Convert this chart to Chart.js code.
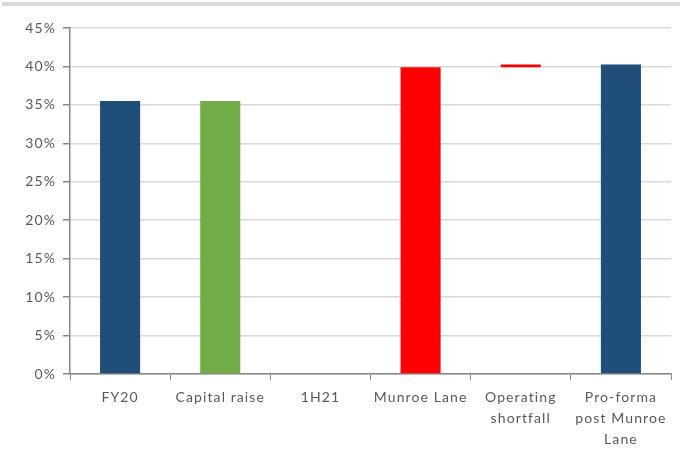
<!DOCTYPE html>
<html>
<head>
<meta charset="utf-8">
<script src="https://cdn.jsdelivr.net/npm/chart.js@4"></script>
<style>
  html, body { margin: 0; padding: 0; background: #fff; }
  .topbar { position: absolute; left: 2px; top: 2px; width: 678px; height: 4px; background: #d9d9d9; }
  .wrap { position: absolute; left: 0; top: 0; width: 680px; height: 455px; }
</style>
</head>
<body>
<div class="topbar"></div>
<div class="wrap"><canvas id="waterfall"></canvas></div>
<script>
// Categories (multi-line labels as arrays)
const categories = ['FY20', 'Capital raise', '1H21', 'Munroe Lane', ['Operating', 'shortfall'], ['Pro-forma', 'post Munroe', 'Lane']];
// Bar bottoms and tops in % (floating bars)
const barStart = [0, 0, null, 0, 39.9, 0];
const barEnd = [35.5, 35.5, null, 39.9, 40.25, 40.25];
const barColors = ['#1f4e79', '#70ad47', '#ffffff', '#ff0000', '#ff0000', '#1f4e79'];
const yTicks = [0, 5, 10, 15, 20, 25, 30, 35, 40, 45];

const ranges = barStart.map((s, i) => (s === null ? null : [s, barEnd[i]]));

// wider text spacing, like the original export
const spacing = {
  id: 'spacing',
  beforeDraw: chart => { chart.ctx.letterSpacing = '1.1px'; }
};

const ctx = document.getElementById('waterfall').getContext('2d');
new Chart(ctx, {
  type: 'bar',
  data: {
    labels: categories,
    datasets: [{
      data: ranges,
      backgroundColor: barColors,
      borderSkipped: false,
      barPercentage: 0.4,
      categoryPercentage: 1.0
    }]
  },
  plugins: [spacing],
  options: {
    responsive: true,
    maintainAspectRatio: false,
    animation: false,
    layout: { padding: { top: 28, right: 9, left: 0, bottom: 0 } },
    plugins: { legend: { display: false }, tooltip: { enabled: false } },
    scales: {
      x: {
        grid: { drawOnChartArea: false, offset: true, tickLength: 6, color: '#868686' },
        border: { color: '#868686', width: 1.5 },
        ticks: {
          color: '#595959',
          font: { family: 'Lato', size: 14, lineHeight: 1.5 },
          padding: 7,
          maxRotation: 0,
          autoSkip: false
        },
        afterFit: scale => { scale.height = 455 - 374; }
      },
      y: {
        min: 0,
        max: 45,
        afterBuildTicks: scale => { scale.ticks = yTicks.map(v => ({ value: v })); },
        grid: { color: '#d9d9d9', lineWidth: 1.5, tickLength: 7, tickColor: '#868686' },
        border: { color: '#868686', width: 1.5 },
        ticks: {
          color: '#595959',
          font: { family: 'Lato', size: 14 },
          padding: 7,
          callback: v => v + '%'
        },
        afterFit: scale => { scale.width = 70; }
      }
    }
  }
});
</script>
</body>
</html>
